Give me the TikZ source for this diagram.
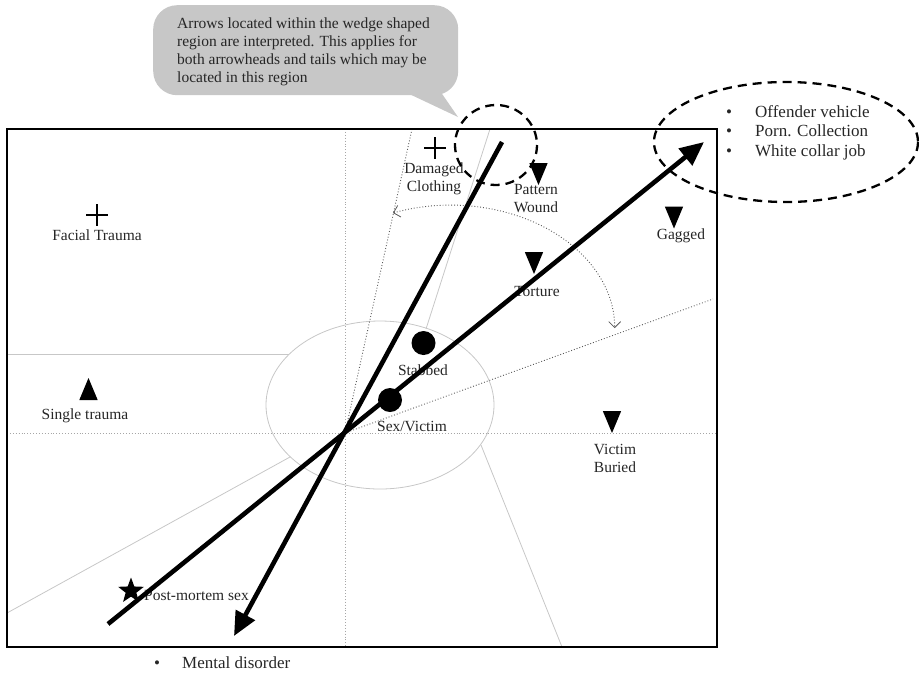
\documentclass[tikz,border=0pt]{standalone}
\usepackage{fontspec}
\setmainfont{Liberation Serif}
\usetikzlibrary{arrows.meta,shapes.geometric}
\begin{document}
\begin{tikzpicture}[x=1pt,y=-1pt,
  lbl/.style={font=\fontsize{15.5}{17.9}\selectfont, inner sep=0pt, text=black!85, align=center},
  blt/.style={font=\fontsize{17}{19.5}\selectfont, inner sep=0pt, text=black!85, anchor=base west},
  framebox/.style={line width=2pt, draw=black},
  thingray/.style={draw=black!22, line width=0.8pt},
  griddots/.style={draw=black!35, dotted, line width=0.9pt},
  wedgeline/.style={draw=black!65, dotted, line width=0.9pt},
  bigarrow/.style={line width=4.6pt, -{Triangle[length=24pt,width=21pt]}},
  dashring/.style={draw=black, line width=2.3pt, dash pattern=on 9pt off 6pt},
  dot/.style={circle, fill=black, minimum size=24pt, inner sep=0pt},
  starmark/.style={star, star points=5, star point ratio=2.4, fill=black, minimum size=27pt, inner sep=0pt},
  plus/.pic={\draw[line width=1.9pt] (-11,0) -- (11,0) (0,-11) -- (0,11);},
  downtri/.pic={\fill (-9.2,-11) -- (9.2,-11) -- (0,11) -- cycle;},
  uptri/.pic={\fill (-9.2,11) -- (9.2,11) -- (0,-11) -- cycle;}
]
\useasboundingbox (0,0) rectangle (919,673);

% callout
\fill[black!22] (405,92) -- (458,117) -- (438,88) -- cycle;
\node[fill=black!22, rounded corners=24pt, minimum width=305pt, minimum height=90pt, inner sep=0pt, anchor=north west] (callout) at (153,5) {};
\node[lbl, align=left, anchor=north west] (calltext) at (177,17.6) {Arrows located within the wedge shaped\\region are interpreted. This applies for\\both arrowheads and tails which may be\\located in this region};

% grid and sector lines
\draw[griddots] (7,433) -- (717,433);
\draw[griddots] (345,129) -- (345,647);
\draw[thingray] (7,354) -- (289,354);
\draw[thingray] (380,405) ellipse[x radius=114, y radius=84];
\draw[thingray] (426,329) -- (490,129);
\draw[thingray] (290,457) -- (7,613);
\draw[thingray] (481,445) -- (562,647);

% wedge
\coordinate (O) at (345,433);
\coordinate (w1) at (412,129);
\coordinate (w2) at (713,299);
\draw[wedgeline] (O) -- (w1);
\draw[wedgeline] (O) -- (w2);
\coordinate (arcL) at (393,213);
\draw[wedgeline, {Straight Barb[length=6pt,width=12pt,line width=0.8pt]}-{Straight Barb[length=6pt,width=12pt,line width=0.8pt]}]
  (arcL) arc[start angle=-110.6, end angle=0, x radius=164, y radius=123];

% frame
\draw[framebox] (7,129) rectangle (717,647);

% markers and labels
\pic at (97,215) {plus};
\node[lbl, anchor=base] (facial) at (97,240) {Facial Trauma};

\pic at (435,148) {plus};
\node[lbl, anchor=north] (damaged) at (434,162.5) {Damaged\\Clothing};

\pic at (538.5,174) {downtri};
\node[lbl, anchor=north] (pattern) at (536,184.5) {Pattern\\Wound};

\pic at (674,217.5) {downtri};
\node[lbl, anchor=base] (gagged) at (681,239) {Gagged};

\pic at (534,263) {downtri};
\node[lbl, anchor=base] (torture) at (537,296) {Torture};

\pic at (88.5,389) {uptri};
\node[lbl, anchor=base] (single) at (85,419) {Single trauma};

\pic at (612,422) {downtri};
\node[lbl, anchor=north] (buried) at (615,444.5) {Victim\\Buried};

\node[dot] (stab) at (423.5,343) {};
\node[lbl, anchor=base] (stabbed) at (423,375) {Stabbed};

\node[dot] (sexv) at (390,400) {};
\node[lbl, anchor=base] (sexvictim) at (412,431) {Sex/Victim};

\node[lbl, anchor=base west] (postmortem) at (144,600) {Post-mortem sex};
\node[starmark] (pms) at (131,591) {};

% arrows
\coordinate (aT) at (108,624);
\coordinate (aH) at (704,142);
\coordinate (bT) at (502,142);
\coordinate (bH) at (234,636);
\draw[bigarrow] (aT) -- (aH);
\draw[bigarrow] (bT) -- (bH);

% dashed rings
\draw[dashring] (496,145) ellipse[x radius=41, y radius=40];
\draw[dashring] (786,142) ellipse[x radius=132, y radius=60];

% bullet lists
\node[blt] (off1) at (726,117) {\makebox[29pt][l]{\textbullet}Offender vehicle};
\node[blt] (off2) at (726,136.5) {\makebox[29pt][l]{\textbullet}Porn. Collection};
\node[blt] (off3) at (726,156) {\makebox[29pt][l]{\textbullet}White collar job};
\node[blt] (mental) at (154,668) {\makebox[28pt][l]{\textbullet}Mental disorder};
\end{tikzpicture}
\end{document}
